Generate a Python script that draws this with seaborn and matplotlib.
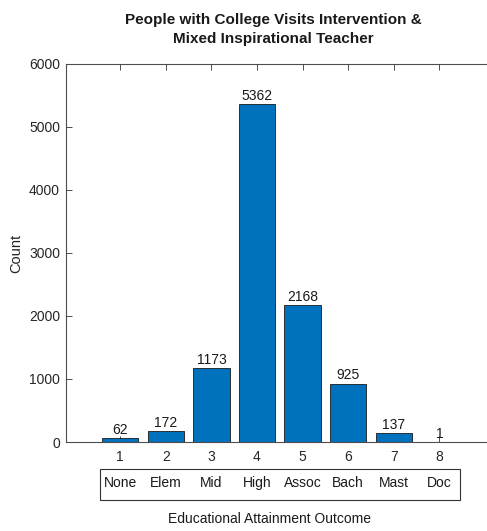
import matplotlib
matplotlib.use("Agg")
import matplotlib.pyplot as plt
import pandas as pd
import seaborn as sns
from matplotlib.patches import Rectangle
from matplotlib.transforms import blended_transform_factory

# Data
outcome_codes = [1, 2, 3, 4, 5, 6, 7, 8]
outcome_names = ["None", "Elem", "Mid", "High", "Assoc", "Bach", "Mast", "Doc"]
counts = [62, 172, 1173, 5362, 2168, 925, 137, 1]

df = pd.DataFrame({"code": outcome_codes, "count": counts})

sns.set_theme(style="white")
plt.rcParams["font.family"] = ["Liberation Sans", "DejaVu Sans"]

fig = plt.figure(figsize=(4.87, 5.31), dpi=100)
ax = fig.add_axes([0.1345, 0.1676, 0.88, 0.712])

sns.barplot(data=df, x="code", y="count", native_scale=True, width=0.8,
            color="#0072BD", saturation=1, edgecolor="#1a1a1a", linewidth=0.6, ax=ax)

for c in ax.containers:
    ax.bar_label(c, fontsize=10, padding=1, color="#1a1a1a")

ax.set_xlim(-0.2, 9.2)
ax.set_ylim(0, 6000)
ax.set_xticks(outcome_codes)
ax.set_xticklabels([str(c) for c in outcome_codes])
ax.set_yticks(range(0, 6001, 1000))
ax.tick_params(direction="in", length=4, width=0.7, colors="#4d4d4d",
               labelcolor="#262626", labelsize=10, top=True, bottom=True, left=True)
ax.tick_params(axis="x", pad=6)
ax.tick_params(axis="y", pad=4)
for s in ax.spines.values():
    s.set_color("#4d4d4d")
    s.set_linewidth(0.8)
ax.set_xlabel("")
ax.set_ylabel("Count", fontsize=10.5, color="#262626", labelpad=4)

ax.set_title("People with College Visits Intervention &\nMixed Inspirational Teacher",
             fontsize=11, fontweight="bold", color="#1a1a1a", pad=15, x=0.484,
             linespacing=1.5)

# category names box below the axis
trans = blended_transform_factory(ax.transData, fig.transFigure)
box = Rectangle((100 / 487, 1 - 500 / 531), 360 / 487, 31 / 531, transform=fig.transFigure,
                fill=False, edgecolor="#333333", linewidth=0.8)
fig.patches.append(box)
for code, name in zip(outcome_codes, outcome_names):
    ax.text(code, 1 - 483 / 531, name, transform=trans, ha="center", va="center",
            fontsize=10, color="#1a1a1a")

fig.text(270 / 487, 1 - 519 / 531, "Educational Attainment Outcome", ha="center", va="center",
         fontsize=10, color="#1a1a1a")

fig.savefig("out.png", dpi=100, facecolor="white")
